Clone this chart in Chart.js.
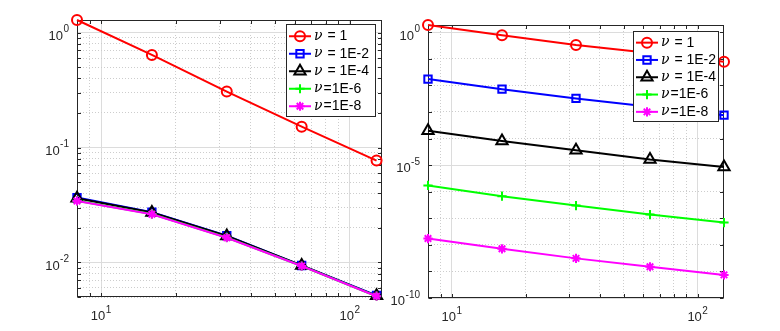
<!DOCTYPE html>
<html>
<head>
<meta charset="utf-8">
<script src="https://cdn.jsdelivr.net/npm/chart.js@4.4.1/dist/chart.umd.min.js"></script>
<style>
  html, body { margin: 0; padding: 0; background: #fff; }
  #wrap { position: relative; width: 780px; height: 331px; overflow: hidden; background: #fff; }
  #leftChart { position: absolute; left: 0; top: 0; }
  #rightChart { position: absolute; left: 380px; top: 0; }
</style>
</head>
<body>
<div id="wrap">
  <canvas id="leftChart" width="390" height="331"></canvas>
  <canvas id="rightChart" width="400" height="331"></canvas>
</div>
<script>
// mesh sizes (x values), shared by both panels
const meshSizes = [8, 16, 32, 64, 128];
const nuLabels = ['ν = 1', 'ν = 1E-2', 'ν = 1E-4', 'ν=1E-6', 'ν=1E-8'];
const lineColors = ['#ff0000', '#0000ff', '#000000', '#00ff00', '#ff00ff'];
const markerStyles = ['circle', 'rect', 'triangle', 'cross', 'star'];
const markerRadii = [5, 5.2, 6.5, 4.6, 4.6];

// left panel values
const leftNu1 = [1.29, 0.64, 0.307, 0.152, 0.077];
const leftNu2 = [0.0367, 0.0274, 0.0171, 0.0094, 0.00516];
const leftNu4 = [0.0362, 0.0272, 0.0170, 0.0094, 0.00512];
const leftNu6 = [0.0345, 0.0264, 0.0165, 0.0093, 0.00508];
const leftNu8 = [0.0343, 0.0263, 0.0164, 0.0093, 0.00508];

// right panel values
const rightNu1 = [1.88, 0.77, 0.33, 0.165, 0.078];
const rightNu2 = [0.0173, 0.00725, 0.00324, 0.00156, 0.00076];
const rightNu4 = [1.97e-4, 8.1e-5, 3.6e-5, 1.62e-5, 8.5e-6];
const rightNu6 = [1.73e-6, 6.8e-7, 3.0e-7, 1.38e-7, 6.9e-8];
const rightNu8 = [1.73e-8, 7.1e-9, 3.1e-9, 1.5e-9, 7.4e-10];

// tick positions and their labels (base, exponent)
const xTicks = [10, 100];
const xTickLabels = [['10', '1'], ['10', '2']];
const leftYTicks = [1, 0.1, 0.01];
const leftYTickLabels = [['10', '0'], ['10', '-1'], ['10', '-2']];
const rightYTicks = [1, 1e-5, 1e-10];
const rightYTickLabels = [['10', '0'], ['10', '-5'], ['10', '-10']];

const fontFamily = '"Liberation Sans", Arial, sans-serif';

function tickIndex(list, v) {
  return list.findIndex(m => Math.abs(m - v) / m < 1e-6);
}

// grid positions: multiples inside each decade
function gridValues(min, max, multiples) {
  const vals = [];
  for (let d = Math.floor(Math.log10(min)); d <= Math.ceil(Math.log10(max)); d++) {
    multiples.forEach(k => {
      const v = k * Math.pow(10, d);
      if (v >= min * 0.9999 && v <= max * 1.0001) vals.push(v);
    });
  }
  return vals;
}

function logAxis(min, max, majors, labels, multiples, fitSize, horizontal) {
  return {
    type: 'logarithmic',
    min: min,
    max: max,
    afterBuildTicks: scale => {
      scale.ticks = gridValues(min, max, multiples).map(v => ({ value: v, major: tickIndex(majors, v) >= 0 }));
    },
    afterFit: scale => {
      if (horizontal) scale.height = fitSize;
      else scale.width = fitSize;
    },
    // labels are drawn by the powerLabels plugin so the exponent can be raised
    ticks: { display: false, autoSkip: false, maxRotation: 0, minRotation: 0 },
    grid: {
      drawTicks: false,
      lineWidth: 1,
      color: ctx => (ctx.tick && ctx.tick.major) ? '#dcdcdc' : '#cdcdcd'
    },
    border: {
      display: false,
      dash: ctx => (ctx.tick && ctx.tick.major) ? [] : [1, 2]
    }
  };
}

function makeDatasets(series) {
  return series.map((vals, i) => ({
    label: nuLabels[i],
    data: meshSizes.map((x, j) => ({ x: x, y: vals[j] })),
    borderColor: lineColors[i],
    backgroundColor: 'rgba(0,0,0,0)',
    borderWidth: 2,
    pointStyle: markerStyles[i],
    pointRadius: markerRadii[i],
    pointBorderWidth: 2,
    pointBorderColor: lineColors[i],
    pointBackgroundColor: 'rgba(0,0,0,0)',
    tension: 0,
    clip: false,
    order: 4 - i
  }));
}

// axes box with inward tick marks, drawn under the data like MATLAB
const axesBox = {
  id: 'axesBox',
  beforeDatasetsDraw(chart) {
    const { ctx, chartArea: a, scales } = chart;
    const L = Math.round(a.left) + 0.5, R = Math.round(a.right) - 0.5;
    const T = Math.round(a.top) + 0.5, B = Math.round(a.bottom) - 0.5;
    ctx.save();
    ctx.strokeStyle = '#262626';
    ctx.lineWidth = 1;
    ctx.beginPath();
    scales.x.ticks.forEach(t => {
      const px = Math.round(scales.x.getPixelForValue(t.value)) + 0.5;
      ctx.moveTo(px, B); ctx.lineTo(px, B - 3.5);
      ctx.moveTo(px, T); ctx.lineTo(px, T + 3.5);
    });
    scales.y.ticks.forEach(t => {
      const py = Math.round(scales.y.getPixelForValue(t.value)) + 0.5;
      ctx.moveTo(L, py); ctx.lineTo(L + 3.5, py);
      ctx.moveTo(R, py); ctx.lineTo(R - 3.5, py);
    });
    ctx.stroke();
    ctx.strokeRect(L, T, R - L, B - T);
    ctx.restore();
  }
};

// "10" with a raised exponent at each labelled tick
const powerLabels = {
  id: 'powerLabels',
  afterDraw(chart, args, opts) {
    const { ctx, chartArea: a, scales } = chart;
    const baseFont = '13px ' + fontFamily;
    const expFont = '10px ' + fontFamily;
    const measure = (base, exp) => {
      ctx.font = baseFont; const wb = ctx.measureText(base).width;
      ctx.font = expFont; const we = ctx.measureText(exp).width;
      return [wb, we];
    };
    const draw = (lab, x, baseY, expY) => {
      ctx.font = baseFont; ctx.fillText(lab[0], x, baseY);
      const wb = ctx.measureText(lab[0]).width;
      ctx.font = expFont; ctx.fillText(lab[1], x + wb + 0.5, expY);
    };
    ctx.save();
    ctx.fillStyle = '#262626';
    ctx.textAlign = 'left';
    ctx.textBaseline = 'alphabetic';
    opts.xTicks.forEach((v, i) => {
      const lab = opts.xLabels[i];
      const [wb, we] = measure(lab[0], lab[1]);
      const px = scales.x.getPixelForValue(v);
      draw(lab, px - (wb + we + 0.5) / 2, a.bottom + 23, a.bottom + 16);
    });
    opts.yTicks.forEach((v, i) => {
      const lab = opts.yLabels[i];
      const [wb, we] = measure(lab[0], lab[1]);
      const py = scales.y.getPixelForValue(v);
      draw(lab, a.left - 8 - (wb + we + 0.5), py + 7.3, py - 0.5);
    });
    ctx.restore();
  }
};

// legend box in the top right corner of the plot area
const nuLegend = {
  id: 'nuLegend',
  afterDraw(chart, args, opts) {
    const { ctx, chartArea: a } = chart;
    const left = Math.round(a.right - opts.insetRight - opts.width);
    const top = Math.round(a.top + opts.insetTop);
    ctx.save();
    ctx.fillStyle = '#fff';
    ctx.fillRect(left, top, opts.width, opts.height);
    ctx.strokeStyle = '#262626';
    ctx.lineWidth = 1;
    ctx.strokeRect(left + 0.5, top + 0.5, opts.width, opts.height);
    chart.data.datasets.forEach((ds, i) => {
      const cy = top + opts.padTop + opts.rowHeight * (i + 0.5);
      const x0 = left + 3, x1 = left + 25;
      ctx.strokeStyle = ds.borderColor;
      ctx.fillStyle = 'rgba(0,0,0,0)';
      ctx.lineWidth = ds.borderWidth;
      ctx.beginPath();
      ctx.moveTo(x0, cy);
      ctx.lineTo(x1, cy);
      ctx.stroke();
      Chart.helpers.drawPoint(ctx, {
        pointStyle: ds.pointStyle,
        radius: ds.pointRadius,
        borderWidth: ds.pointBorderWidth,
        rotation: 0
      }, (x0 + x1) / 2, cy);
      ctx.fillStyle = '#000';
      ctx.textBaseline = 'middle';
      ctx.font = 'italic 14px "DejaVu Serif", serif';
      const nu = ds.label[0];
      ctx.fillText(nu, left + 28, cy);
      const nuW = ctx.measureText(nu).width;
      ctx.font = '14px ' + fontFamily;
      ctx.fillText(ds.label.slice(1), left + 28 + nuW + 1, cy);
    });
    ctx.restore();
  }
};

function makeChart(id, series, xMax, yMin, yMax, yTicks, yLabels, yMultiples, yWidth, xHeight, padding, legendOpts) {
  return new Chart(document.getElementById(id), {
    type: 'line',
    data: { datasets: makeDatasets(series) },
    options: {
      responsive: false,
      animation: false,
      layout: { padding: padding },
      scales: {
        x: logAxis(8, xMax, xTicks, xTickLabels, [1, 2, 3, 4, 5, 6, 7, 8, 9], xHeight, true),
        y: logAxis(yMin, yMax, yTicks, yLabels, yMultiples, yWidth, false)
      },
      plugins: {
        legend: { display: false },
        tooltip: { enabled: false },
        nuLegend: legendOpts,
        powerLabels: { xTicks: xTicks, xLabels: xTickLabels, yTicks: yTicks, yLabels: yLabels }
      }
    },
    plugins: [axesBox, powerLabels, nuLegend]
  });
}

makeChart('leftChart',
  [leftNu1, leftNu2, leftNu4, leftNu6, leftNu8],
  134, 0.005, 1.29,
  leftYTicks, leftYTickLabels, [1, 2, 3, 4, 5, 6, 7, 8, 9],
  77, 34,
  { left: 0, right: 7, top: 20, bottom: 0 },
  { width: 89, height: 92, insetRight: 6.5, insetTop: 4, padTop: 3.5, rowHeight: 17.5 });

makeChart('rightChart',
  [rightNu1, rightNu2, rightNu4, rightNu6, rightNu8],
  128, 1e-10, 1.88,
  rightYTicks, rightYTickLabels, [1],
  48, 33,
  { left: 0, right: 56, top: 25, bottom: 0 },
  { width: 85, height: 90, insetRight: 6, insetTop: 5.5, padTop: 3, rowHeight: 17.3 });
</script>
</body>
</html>
